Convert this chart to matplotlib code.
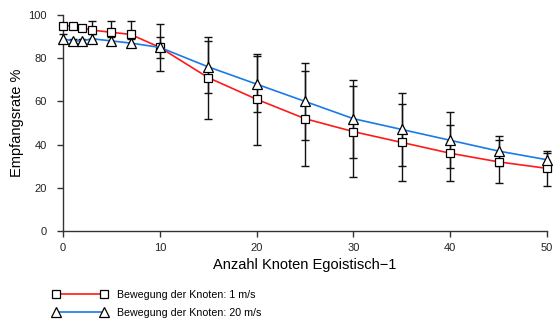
import matplotlib
matplotlib.use('Agg')
import matplotlib.pyplot as plt
from matplotlib.lines import Line2D

plt.rcParams['font.family'] = ['Liberation Sans', 'DejaVu Sans']

# Daten
knoten = [0, 1, 2, 3, 5, 7, 10, 15, 20, 25, 30, 35, 40, 45, 50]
rate_1ms = [95, 95, 94, 93, 92, 91, 85, 71, 61, 52, 46, 41, 36, 32, 29]
err_1ms = [0, 0, 0, 4, 5, 6, 11, 19, 21, 22, 21, 18, 13, 10, 8]
rate_20ms = [89, 88, 88, 89, 88, 87, 85, 76, 68, 60, 52, 47, 42, 37, 33]
err_20ms = [2, 1, 1, 2, 2, 2, 5, 12, 13, 18, 18, 17, 13, 7, 3]

label_1ms = 'Bewegung der Knoten: 1 m/s'
label_20ms = 'Bewegung der Knoten: 20 m/s'
rot = '#ff1a1a'
blau = '#1a7ae6'

fig = plt.figure(figsize=(5.55, 3.21), dpi=100)
ax = fig.add_axes([63 / 555, 1 - 231 / 321, 484 / 555, 216 / 321])

# Fehlerbalken
for rate, err in [(rate_1ms, err_1ms), (rate_20ms, err_20ms)]:
    ax.errorbar(knoten, rate, yerr=err, fmt='none', ecolor='#111111',
                elinewidth=1, capsize=2.6, capthick=1, zorder=2, clip_on=False)

# Linien mit Markern
stil_1 = dict(color=rot, lw=1.2, marker='s', ms=5.8, mfc='white', mec='black', mew=0.9)
stil_20 = dict(color=blau, lw=1.2, marker='^', ms=6.8, mfc='white', mec='black', mew=0.9)
ax.plot(knoten, rate_1ms, zorder=3, clip_on=False, **stil_1)
ax.plot(knoten, rate_20ms, zorder=3, clip_on=False, **stil_20)

ax.set_xlim(0, 50)
ax.set_ylim(0, 100)
ax.set_xticks([0, 10, 20, 30, 40, 50])
ax.set_yticks([0, 20, 40, 60, 80, 100])

for s in ['top', 'right']:
    ax.spines[s].set_visible(False)
for s in ['left', 'bottom']:
    ax.spines[s].set_color('#333333')
    ax.spines[s].set_linewidth(1)
ax.tick_params(direction='out', length=4.5, width=1, color='#333333',
               labelsize=8, labelcolor='#222222')
ax.tick_params(axis='y', pad=7)
ax.tick_params(axis='x', pad=4)

ax.set_xlabel('Anzahl Knoten Egoistisch\u22121', fontsize=10.5, labelpad=4)
ax.set_ylabel('Empfangsrate %', fontsize=10.5, labelpad=3)

# Legende unten
handles = [Line2D([], [], **stil_1), Line2D([], [], **stil_20)]
fig.legend(handles, [label_1ms, label_20ms], loc='upper left',
           bbox_to_anchor=(53 / 555, 1 - 290 / 321), frameon=False,
           numpoints=2, handlelength=5.1, handletextpad=0.9,
           labelspacing=0.75, fontsize=7.7, borderaxespad=0, borderpad=0)

fig.savefig('out.png', dpi=100)
